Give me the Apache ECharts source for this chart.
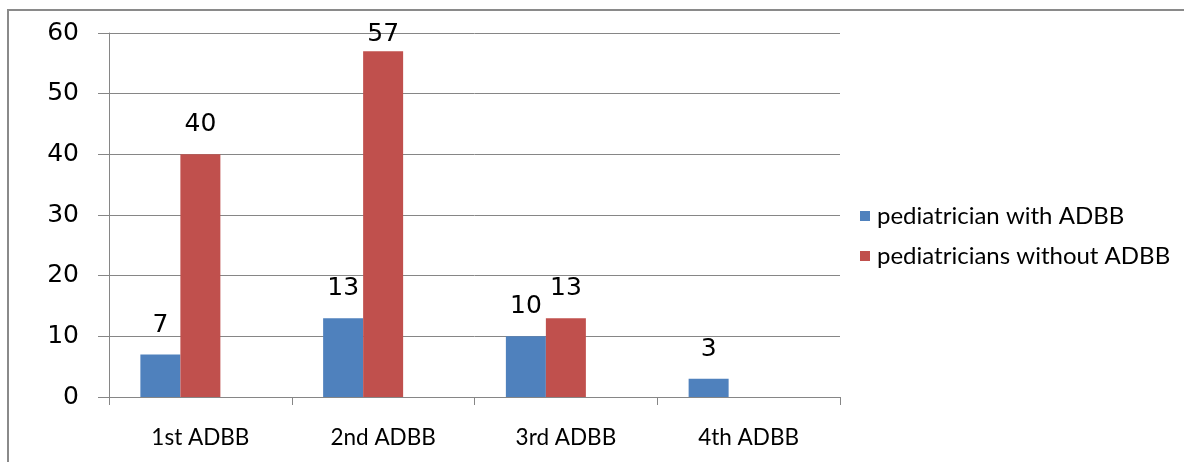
<!DOCTYPE html>
<html>
<head>
<meta charset="utf-8">
<script src="https://cdn.jsdelivr.net/npm/echarts@6/dist/echarts.min.js"></script>
<style>
  html, body { margin: 0; padding: 0; background: #ffffff; }
  #chart { width: 1184px; height: 462px; }
</style>
</head>
<body>
<div id="chart"></div>
<script>
// ADBB rounds on the category axis
const categories = ['1st ADBB', '2nd ADBB', '3rd ADBB', '4th ADBB'];
// counts per round
const withAdbb = [7, 13, 10, 3];
const withoutAdbb = [40, 57, 13, null];
const seriesNames = ['pediatrician with ADBB', 'pediatricians without ADBB'];
const yTicks = { min: 0, max: 60, interval: 10 };

const axisGray = '#868686';
const numberFont = 'DejaVu Sans';
const textFont = 'Lato';

const chart = echarts.init(document.getElementById('chart'), null, { renderer: 'canvas' });

const valueLabel = {
  show: true,
  position: 'top',
  distance: 17,
  fontFamily: numberFont,
  fontSize: 25,
  color: '#000000',
  formatter: p => (p.value == null ? '' : String(p.value))
};

// labels near the top of the value axis are pulled down to stay inside the plot
function withLabels(values) {
  return values.map(v => (v != null && v > yTicks.max - 6)
    ? { value: v, label: { distance: 4 } }
    : v);
}

chart.setOption({
  backgroundColor: '#ffffff',
  animation: false,
  graphic: [{
    type: 'rect',
    shape: { x: 8, y: 10, width: 1200, height: 500 },
    style: { fill: 'none', stroke: '#8a8a8a', lineWidth: 2 },
    silent: true
  }],
  grid: { left: 109, right: 344, top: 33, bottom: 65, containLabel: false },
  legend: {
    data: seriesNames,
    orient: 'vertical',
    left: 855,
    top: 199,
    itemWidth: 10,
    itemHeight: 10,
    itemGap: 16,
    icon: 'rect',
    textStyle: { fontFamily: textFont, fontSize: 24, color: '#000000', padding: [0, 0, 0, 2] }
  },
  xAxis: {
    type: 'category',
    data: categories,
    axisLine: { lineStyle: { color: axisGray, width: 1 } },
    axisTick: { show: true, length: 8, lineStyle: { color: axisGray } },
    axisLabel: { fontFamily: textFont, fontSize: 22.5, color: '#000000', margin: 29 },
    splitLine: { show: false }
  },
  yAxis: {
    type: 'value',
    min: yTicks.min,
    max: yTicks.max,
    interval: yTicks.interval,
    axisLine: { show: true, lineStyle: { color: axisGray, width: 1 } },
    axisTick: { show: true, inside: false, length: 11, lineStyle: { color: axisGray } },
    axisLabel: { fontFamily: numberFont, fontSize: 25, color: '#000000', margin: 30 },
    splitLine: { show: true, lineStyle: { color: axisGray, width: 1 } }
  },
  series: [
    {
      name: seriesNames[0],
      type: 'bar',
      data: withLabels(withAdbb),
      barWidth: 40,
      barGap: '0%',
      itemStyle: { color: '#4F81BD' },
      label: valueLabel
    },
    {
      name: seriesNames[1],
      type: 'bar',
      data: withLabels(withoutAdbb),
      barWidth: 40,
      barGap: '0%',
      itemStyle: { color: '#C0504D' },
      label: valueLabel
    },
    {
      // empty third slot in each group, keeps the pair left of centre
      type: 'bar',
      data: [],
      barWidth: 40,
      barGap: '0%',
      silent: true
    }
  ]
});
</script>
</body>
</html>
